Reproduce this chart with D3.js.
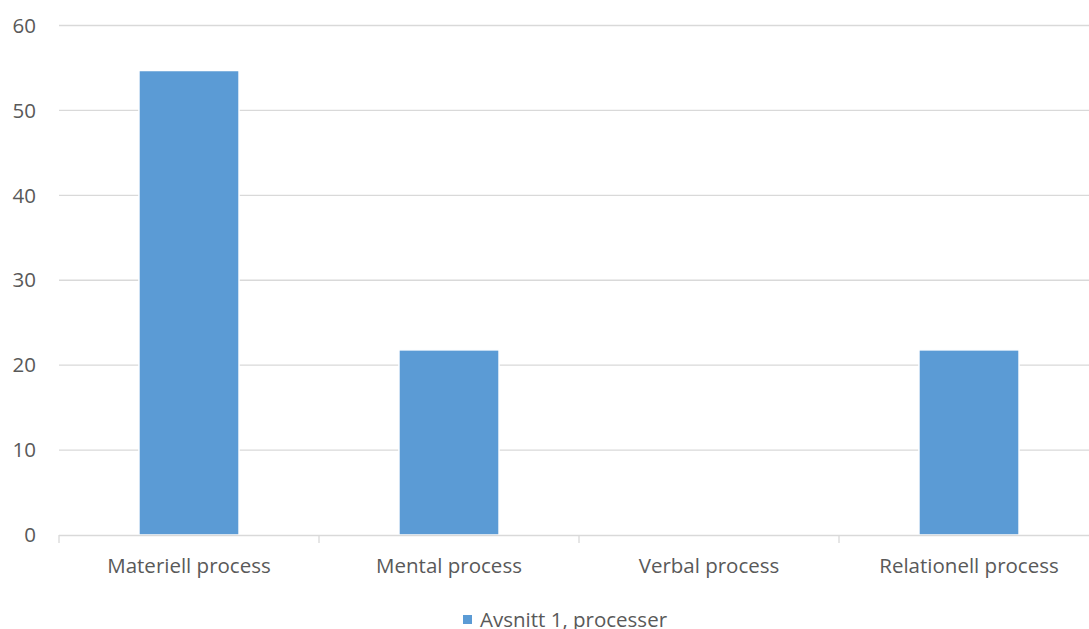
<!DOCTYPE html>
<html>
<head>
<meta charset="utf-8">
<script src="https://cdn.jsdelivr.net/npm/d3@7"></script>
<style>
  body { margin: 0; background: #fff; }
  svg { display: block; font-family: "Open Sans", sans-serif; }
</style>
</head>
<body>
<div id="chart"></div>
<script>
const categories = ["Materiell process", "Mental process", "Verbal process", "Relationell process"]
const values = [54.7, 21.8, 0, 21.8]
const yTicks = [0, 10, 20, 30, 40, 50, 60]
const seriesName = "Avsnitt 1, processer"

const width = 1089
const height = 629
const margin = {left: 59, top: 25.5}
const plotW = 1040
const plotH = 509.5
const fontSize = "20.5px"

const svg = d3.select("#chart")
    .append("svg")
    .attr("width", width)
    .attr("height", height)

const x = d3.scaleBand()
    .domain(categories)
    .range([margin.left, margin.left + plotW])
    .paddingInner(0.615)
    .paddingOuter(0.3075)

const y = d3.scaleLinear()
    .domain([0, 60])
    .range([margin.top + plotH, margin.top])

// gridlines
svg.append("g")
    .selectAll("line")
    .data(yTicks.filter(d => d > 0))
    .enter().append("line")
    .attr("x1", margin.left)
    .attr("x2", margin.left + plotW)
    .attr("y1", d => y(d))
    .attr("y2", d => y(d))
    .attr("stroke", "#d9d9d9")
    .attr("stroke-width", 1.3)

// y labels
svg.append("g")
    .selectAll("text")
    .data(yTicks)
    .enter().append("text")
    .attr("x", 36)
    .attr("y", d => y(d))
    .attr("dy", "0.35em")
    .attr("text-anchor", "end")
    .attr("fill", "#595959")
    .style("font-size", fontSize)
    .text(d => d)

// bars
svg.append("g")
    .selectAll("rect")
    .data(values)
    .enter().append("rect")
    .attr("x", (d, i) => x(categories[i]))
    .attr("y", d => y(d))
    .attr("width", x.bandwidth())
    .attr("height", d => y(0) - y(d))
    .attr("fill", "#5b9bd5")
    .attr("stroke", "#fff")
    .attr("stroke-width", d => d > 0 ? 1.5 : 0)

// x axis
const step = x.step()
const xAxis = svg.append("g")
xAxis.append("line")
    .attr("x1", margin.left)
    .attr("x2", margin.left + plotW)
    .attr("y1", y(0) + 0.5)
    .attr("y2", y(0) + 0.5)
    .attr("stroke", "#d9d9d9")
    .attr("stroke-width", 1.3)
xAxis.selectAll(".tick")
    .data(d3.range(categories.length + 1))
    .enter().append("line")
    .attr("x1", i => margin.left + i * step)
    .attr("x2", i => margin.left + i * step)
    .attr("y1", y(0))
    .attr("y2", y(0) + 8)
    .attr("stroke", "#d9d9d9")
    .attr("stroke-width", 1.3)
xAxis.selectAll("text")
    .data(categories)
    .enter().append("text")
    .attr("x", d => x(d) + x.bandwidth() / 2)
    .attr("y", 573)
    .attr("text-anchor", "middle")
    .attr("fill", "#595959")
    .style("font-size", fontSize)
    .text(d => d)

// legend
const legend = svg.append("g")
legend.append("rect")
    .attr("x", 463)
    .attr("y", 615)
    .attr("width", 9)
    .attr("height", 9)
    .attr("fill", "#5b9bd5")
legend.append("text")
    .attr("x", 480)
    .attr("y", 627)
    .attr("fill", "#595959")
    .style("font-size", fontSize)
    .text(seriesName)
</script>
</body>
</html>
